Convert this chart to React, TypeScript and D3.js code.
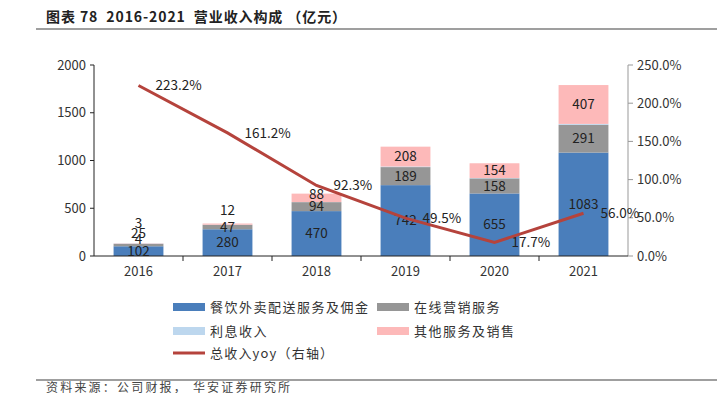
import React from 'react';
import * as d3 from 'd3';

const years = ['2016', '2017', '2018', '2019', '2020', '2021'];
const delivery = [102, 280, 470, 742, 655, 1083];
const marketing = [25, 47, 94, 189, 158, 291];
const interest = [4, 1, 1, 6, 4, 9];
const other = [3, 12, 88, 208, 154, 407];
const yoy = [223.2, 161.2, 92.3, 49.5, 17.7, 56.0];
const leftTicks = [0, 500, 1000, 1500, 2000];
const rightTicks = [0, 50, 100, 150, 200, 250];

const FONT = '"Noto Sans CJK SC", "Noto Sans", sans-serif';

const series = [
  { key: 'delivery', name: '餐饮外卖配送服务及佣金', values: delivery, color: '#4a7ebb', showLabel: true },
  { key: 'marketing', name: '在线营销服务', values: marketing, color: '#969696', showLabel: true },
  { key: 'interest', name: '利息收入', values: interest, color: '#bdd7ee', showLabel: false },
  { key: 'other', name: '其他服务及销售', values: other, color: '#fdb9b9', showLabel: true },
];

// labels of tiny segments are lifted above the bar (px above bar top)
const lifted: Record<string, number> = {
  'interest-0': 4,
  'marketing-0': 10,
  'other-0': 20,
  'other-1': 13,
};
// small vertical nudges of centred labels (px)
const nudge: Record<string, number> = {
  'other-2': -4,
};

export default function App() {
  const width = 717;
  const height = 393;
  const left = 94;
  const right = 628;
  const top = 65;
  const bottom = 256;

  const band = (right - left) / years.length;
  const cx = (i: number) => left + band * (i + 0.5);
  const bw = band * 0.56;
  const y = d3.scaleLinear().domain([0, 2000]).range([bottom, top]);
  const y2 = d3.scaleLinear().domain([0, 250]).range([bottom, top]);

  const rows = years.map((yr, i) => {
    const r: any = { year: yr };
    series.forEach(s => (r[s.key] = s.values[i]));
    return r;
  });
  const stack = d3.stack<any>().keys(series.map(s => s.key))(rows);

  const line = d3
    .line<number>()
    .x((_, i) => cx(i))
    .y(d => y2(d));

  const barTops = years.map((_, i) => y(d3.sum(series, s => s.values[i])));

  return (
    <div style={{ position: 'absolute', left: 0, top: 0 }}>
      <svg width={width} height={height} style={{ display: 'block', fontFamily: FONT }}>
        <rect width={width} height={height} fill="#fff" />
        {/* title */}
        <text x={46} y={22} fontSize={14} fontWeight={700} letterSpacing={0.9} fill="#222" style={{ whiteSpace: 'pre' }}>
          {'图表 78  2016-2021  营业收入构成 （亿元）'}
        </text>
        <line x1={36} x2={717} y1={29} y2={29} stroke="#7f7f7f" strokeWidth={1.5} />

        {/* bars */}
        {stack.map((layer, si) => (
          <g key={layer.key}>
            {layer.map((d, i) => (
              <rect
                key={i}
                x={cx(i) - bw / 2}
                y={y(d[1])}
                width={bw}
                height={Math.max(0, y(d[0]) - y(d[1]))}
                fill={series[si].color}
              />
            ))}
          </g>
        ))}

        {/* left axis */}
        <line x1={left} x2={left} y1={top} y2={bottom} stroke="#222" />
        {leftTicks.map(t => (
          <g key={t}>
            <line x1={left - 4} x2={left} y1={y(t)} y2={y(t)} stroke="#222" />
            <text x={left - 8} y={y(t)} dy="0.35em" textAnchor="end" fontSize={13} fill="#333">
              {t}
            </text>
          </g>
        ))}

        {/* right axis */}
        <line x1={right} x2={right} y1={top} y2={bottom} stroke="#999" />
        {rightTicks.map(t => (
          <g key={t}>
            <line x1={right} x2={right + 5} y1={y2(t)} y2={y2(t)} stroke="#999" />
            <text x={right + 9} y={y2(t)} dy="0.35em" fontSize={13} fill="#333">
              {t.toFixed(1)}%
            </text>
          </g>
        ))}

        {/* x axis */}
        <line x1={left} x2={right} y1={bottom} y2={bottom} stroke="#222" />
        {years.slice(1).map((_, i) => (
          <line key={i} x1={left + band * (i + 1)} x2={left + band * (i + 1)} y1={bottom} y2={bottom + 5} stroke="#222" />
        ))}
        {years.map((yr, i) => (
          <text key={yr} x={cx(i)} y={271} dy="0.35em" textAnchor="middle" fontSize={13} fill="#333">
            {yr}
          </text>
        ))}

        {/* segment labels */}
        {stack.map((layer, si) =>
          layer.map((d, i) => {
            const k = `${series[si].key}-${i}`;
            if (!series[si].showLabel && lifted[k] === undefined) return null;
            const ly =
              lifted[k] !== undefined ? barTops[i] - lifted[k] : (y(d[0]) + y(d[1])) / 2 + (nudge[k] || 0);
            return (
              <text key={k} x={cx(i)} y={ly} dy="0.35em" textAnchor="middle" fontSize={13.5} fill="#222">
                {series[si].values[i]}
              </text>
            );
          })
        )}

        {/* yoy line */}
        <path d={line(yoy) || ''} fill="none" stroke="#b5433c" strokeWidth={3} />
        {yoy.map((v, i) => (
          <text key={i} x={cx(i) + 17} y={y2(v)} dy="0.35em" fontSize={13.5} fill="#222">
            {v.toFixed(1)}%
          </text>
        ))}

        {/* legend */}
        {series.map((s, i) => {
          const lx = i % 2 === 0 ? 173 : 377;
          const ly = i < 2 ? 307 : 331;
          return (
            <g key={s.key}>
              <rect x={lx} y={ly - 4} width={32} height={8} fill={s.color} />
              <text x={lx + 37} y={ly} dy="0.35em" fontSize={13} letterSpacing={1.5} fill="#333">
                {s.name}
              </text>
            </g>
          );
        })}
        <line x1={173} x2={205} y1={353} y2={353} stroke="#b5433c" strokeWidth={3} />
        <text x={210} y={353} dy="0.35em" fontSize={13} letterSpacing={1.2} fill="#333">
          总收入yoy（右轴）
        </text>

        {/* footer */}
        <line x1={36} x2={717} y1={380} y2={380} stroke="#7f7f7f" strokeWidth={1.5} />
        <text x={46} y={392} fontSize={12} letterSpacing={2.2} fill="#444">
          资料来源：公司财报， 华安证券研究所
        </text>
      </svg>
    </div>
  );
}
